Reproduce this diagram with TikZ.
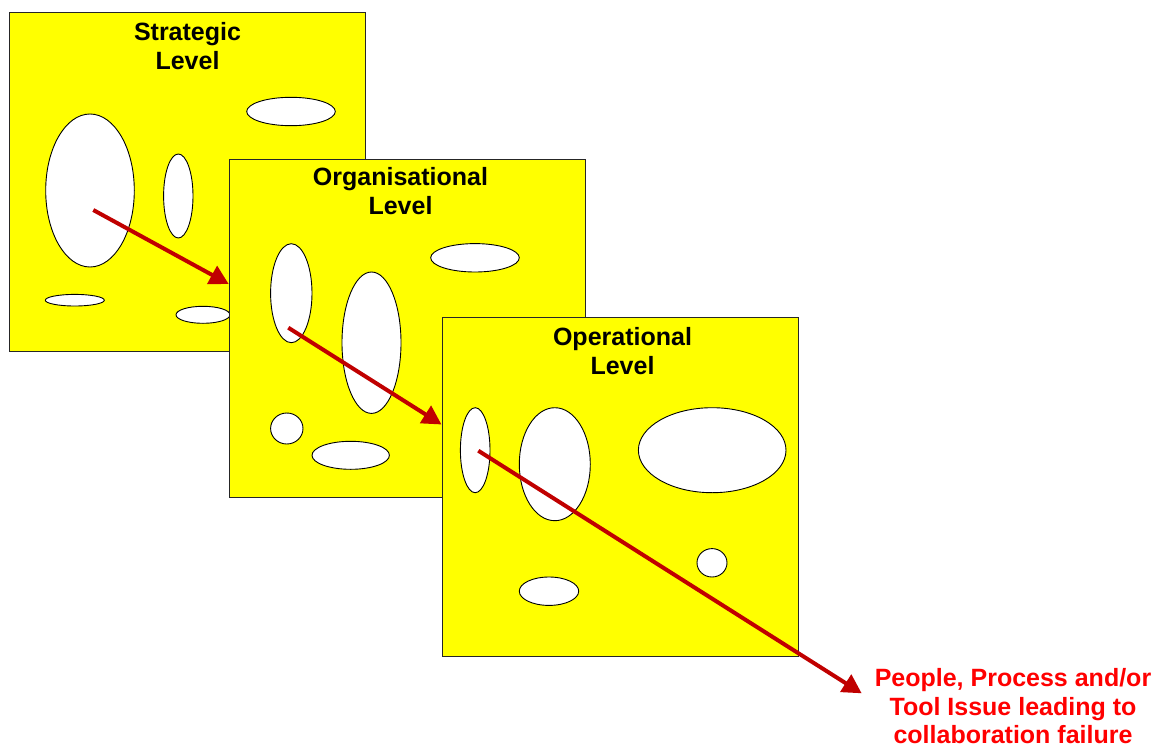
\documentclass[tikz,border=0pt]{standalone}
\usepackage{fontspec}
\setmainfont{Liberation Sans}
\usetikzlibrary{arrows.meta}
\definecolor{cheese}{HTML}{FFFF00}
\definecolor{arrowred}{HTML}{C00000}
\definecolor{textred}{HTML}{FF0000}
\tikzset{
  levelbox/.style={draw=black!85, line width=1pt, fill=cheese},
  hole/.style={draw=black, line width=0.9pt, fill=white},
  lbl/.style={font=\fontsize{25}{28.6}\selectfont\bfseries, align=center, inner sep=0pt, anchor=base},
  outlbl/.style={font=\fontsize{25}{28.6}\selectfont\bfseries, text=textred, align=center, inner sep=0pt, anchor=base},
  passarrow/.style={draw=arrowred, line width=4pt, -{Triangle[length=19pt,width=20pt]}}
}
\begin{document}
\begin{tikzpicture}[x=1pt,y=-1pt]
\useasboundingbox (0,0) rectangle (1165,747);
% Strategic level
\path[levelbox] (9.5,12.3) rectangle (365.6,351);
\node[lbl] (stratlbl) at (187.5,69.3) {Strategic\\Level};
\path[hole] (90,190.5) ellipse [x radius=44.3, y radius=76.5];
\path[hole] (178.3,196) ellipse [x radius=14.7, y radius=42];
\path[hole] (291,111.5) ellipse [x radius=44.3, y radius=14.2];
\path[hole] (74.8,300.2) ellipse [x radius=29.5, y radius=5.8];
\path[hole] (203,314.8) ellipse [x radius=27, y radius=8.5];
\coordinate (s1) at (93.3,210);
\coordinate (e1) at (228.7,284);
\draw[passarrow] (s1) -- (e1);
% Organisational level
\path[levelbox] (229.3,159.3) rectangle (585,497.7);
\node[lbl] (orglbl) at (400.5,214.3) {Organisational\\Level};
\path[hole] (291.3,293.2) ellipse [x radius=20.7, y radius=49.5];
\path[hole] (371.5,342.7) ellipse [x radius=29.5, y radius=70.7];
\path[hole] (475,257.8) ellipse [x radius=44.3, y radius=14.2];
\path[hole] (286.8,428.5) ellipse [x radius=16.2, y radius=15.5];
\path[hole] (350.7,455.3) ellipse [x radius=38.7, y radius=14];
\coordinate (s2) at (288.3,327.7);
\coordinate (e2) at (441.5,424.5);
\draw[passarrow] (s2) -- (e2);
% Operational level
\path[levelbox] (442.3,317.3) rectangle (798.3,656.7);
\node[lbl] (oplbl) at (622.5,374.3) {Operational\\Level};
\path[hole] (475.2,450.2) ellipse [x radius=14.8, y radius=42.5];
\path[hole] (554.8,464.2) ellipse [x radius=35.5, y radius=56.5];
\path[hole] (712.2,450.2) ellipse [x radius=73.8, y radius=42.5];
\path[hole] (712,562.8) ellipse [x radius=15, y radius=14.2];
\path[hole] (549,591.2) ellipse [x radius=29.7, y radius=14.2];
\coordinate (s3) at (478.3,450.7);
\node[outlbl] (failure) at (1013,743.6) {People, Process and/or\\Tool Issue leading to\\collaboration failure};
\coordinate (e3) at (861.7,693.3);
\draw[passarrow] (s3) -- (e3);
\end{tikzpicture}
\end{document}
